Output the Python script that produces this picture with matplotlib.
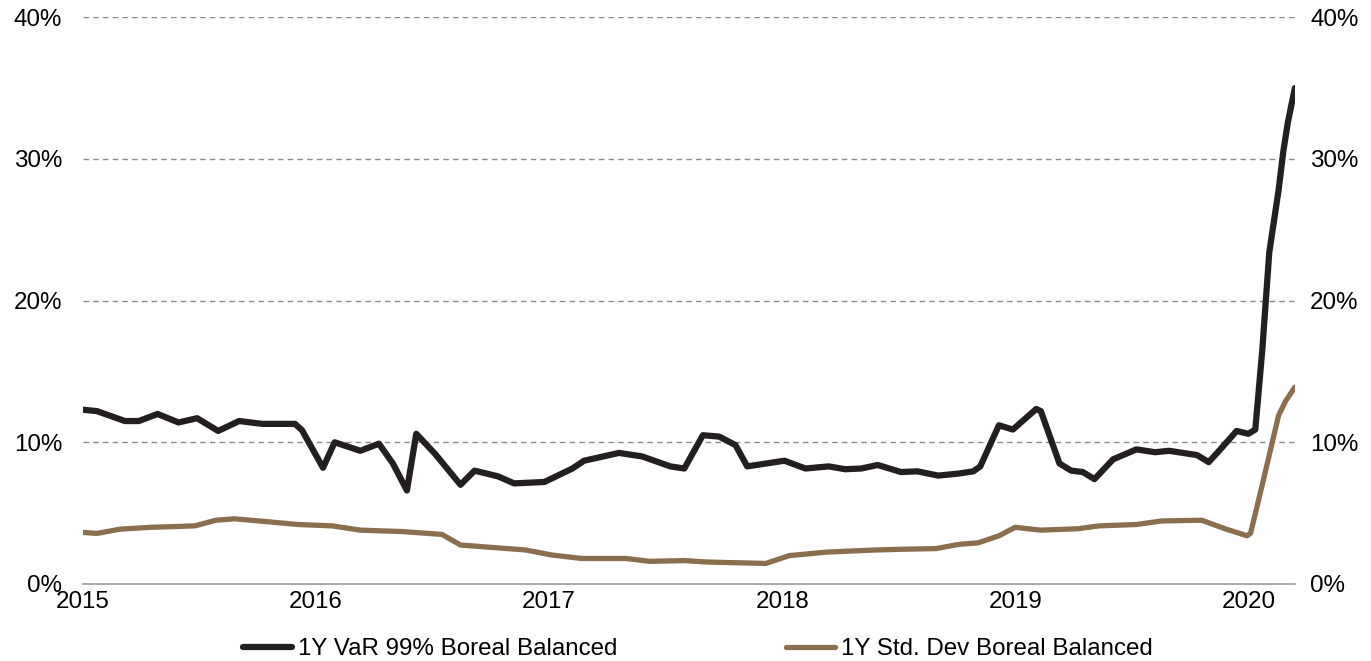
"""
1Y VaR 99% e desvio-padrão do Boreal Balanced, 2015-2020.
Valores lidos do gráfico de referência (datas em fração de ano).
"""

import matplotlib
matplotlib.use("Agg")
import matplotlib.pyplot as plt
from matplotlib.ticker import FuncFormatter

plt.rcParams["font.family"] = ["Liberation Sans", "DejaVu Sans"]

# --- dados -----------------------------------------------------------------
var_anos = [
    2015.00, 2015.06, 2015.18, 2015.24, 2015.32, 2015.41, 2015.49, 2015.58,
    2015.67, 2015.77, 2015.91, 2015.94, 2016.03, 2016.08, 2016.19, 2016.27,
    2016.33, 2016.39, 2016.43, 2016.51, 2016.62, 2016.68, 2016.78, 2016.85,
    2016.98, 2017.10, 2017.15, 2017.30, 2017.40, 2017.52, 2017.58, 2017.66,
    2017.73, 2017.80, 2017.85, 2018.01, 2018.10, 2018.20, 2018.27, 2018.34,
    2018.41, 2018.51, 2018.58, 2018.67, 2018.76, 2018.82, 2018.85, 2018.93,
    2018.99, 2019.09, 2019.11, 2019.19, 2019.24, 2019.29, 2019.34, 2019.42,
    2019.52, 2019.60, 2019.66, 2019.78, 2019.83, 2019.88, 2019.95, 2020.00,
    2020.03, 2020.06, 2020.09, 2020.13, 2020.15, 2020.17, 2020.20,
]
var_valores = [
    12.3, 12.2, 11.5, 11.5, 12.0, 11.4, 11.7, 10.8,
    11.5, 11.3, 11.3, 10.85, 8.2, 10.0, 9.4, 9.9,
    8.5, 6.6, 10.6, 9.2, 7.0, 8.0, 7.6, 7.1,
    7.2, 8.15, 8.7, 9.25, 9.0, 8.3, 8.15, 10.5,
    10.4, 9.8, 8.3, 8.7, 8.15, 8.3, 8.1, 8.15,
    8.4, 7.9, 7.95, 7.65, 7.8, 7.95, 8.3, 11.2,
    10.9, 12.35, 12.2, 8.5, 8.0, 7.9, 7.4, 8.8,
    9.5, 9.3, 9.4, 9.1, 8.6, 9.5, 10.8, 10.6,
    10.9, 16.5, 23.4, 27.8, 30.5, 32.6, 35.0,
]

dp_anos = [
    2015.00, 2015.06, 2015.16, 2015.29, 2015.48, 2015.57, 2015.65, 2015.79,
    2015.92, 2016.07, 2016.19, 2016.37, 2016.54, 2016.62, 2016.82, 2016.90,
    2017.01, 2017.14, 2017.33, 2017.43, 2017.58, 2017.68, 2017.93, 2018.03,
    2018.19, 2018.40, 2018.51, 2018.66, 2018.76, 2018.84, 2018.93, 2019.00,
    2019.11, 2019.27, 2019.36, 2019.52, 2019.63, 2019.80, 2019.90, 2019.995,
    2020.01, 2020.06, 2020.13, 2020.16, 2020.20,
]
dp_valores = [
    3.64, 3.57, 3.87, 4.0, 4.1, 4.5, 4.6, 4.4,
    4.2, 4.1, 3.8, 3.7, 3.5, 2.75, 2.5, 2.4,
    2.05, 1.8, 1.8, 1.6, 1.65, 1.55, 1.45, 2.0,
    2.25, 2.4, 2.45, 2.5, 2.8, 2.9, 3.4, 4.0,
    3.8, 3.9, 4.1, 4.2, 4.45, 4.5, 3.9, 3.4,
    3.6, 7.0, 11.9, 12.9, 13.9,
]

anos_ticks = [2015, 2016, 2017, 2018, 2019, 2020]
pct_ticks = [0, 10, 20, 30, 40]

legenda_var = "1Y VaR 99% Boreal Balanced"
legenda_dp = "1Y Std. Dev Boreal Balanced"

COR_VAR = "#231f20"
COR_DP = "#8b6e4e"
COR_GRADE = "#8c8c8c"
TAM = 17.4

# --- gráfico ---------------------------------------------------------------
fig = plt.figure(figsize=(13.71, 6.61), dpi=100)
ax = fig.add_axes([0.0605, 0.1165, 0.884, 0.8575])

ax.plot(var_anos, var_valores, color=COR_VAR, linewidth=4.5,
        solid_capstyle="round", solid_joinstyle="round", label=legenda_var, zorder=3)
ax.plot(dp_anos, dp_valores, color=COR_DP, linewidth=3.8,
        solid_capstyle="round", solid_joinstyle="round", label=legenda_dp, zorder=3)

ax.set_xlim(2015, 2020.2)
ax.set_ylim(0, 40)
ax.set_xticks(anos_ticks)
ax.set_xticklabels([str(a) for a in anos_ticks])
ax.set_yticks(pct_ticks)
fmt = FuncFormatter(lambda v, _: f"{v:.0f}%")
ax.yaxis.set_major_formatter(fmt)

for v in pct_ticks[1:]:
    ax.axhline(v, color=COR_GRADE, linestyle=(0, (4, 3)), linewidth=1.0, zorder=1)

for lado in ["top", "right", "left"]:
    ax.spines[lado].set_visible(False)
ax.spines["bottom"].set_color("#a0a0a0")
ax.spines["bottom"].set_linewidth(1.3)

ax.tick_params(axis="both", length=0, labelsize=TAM, colors="black")
ax.tick_params(axis="y", pad=15)
ax.tick_params(axis="x", pad=5)

ax2 = ax.twinx()
ax2.set_ylim(0, 40)
ax2.set_yticks(pct_ticks)
ax2.yaxis.set_major_formatter(fmt)
ax2.tick_params(axis="y", length=0, labelsize=TAM, pad=11)
for lado in ["top", "right", "left", "bottom"]:
    ax2.spines[lado].set_visible(False)

h, l = ax.get_legend_handles_labels()
fig.legend(h, l, loc="center", bbox_to_anchor=(0.509, 0.018), ncol=2,
           frameon=False, fontsize=TAM, handlelength=2.0, handletextpad=0.25,
           columnspacing=7.0, borderaxespad=0)

fig.savefig("out.png", dpi=100)
